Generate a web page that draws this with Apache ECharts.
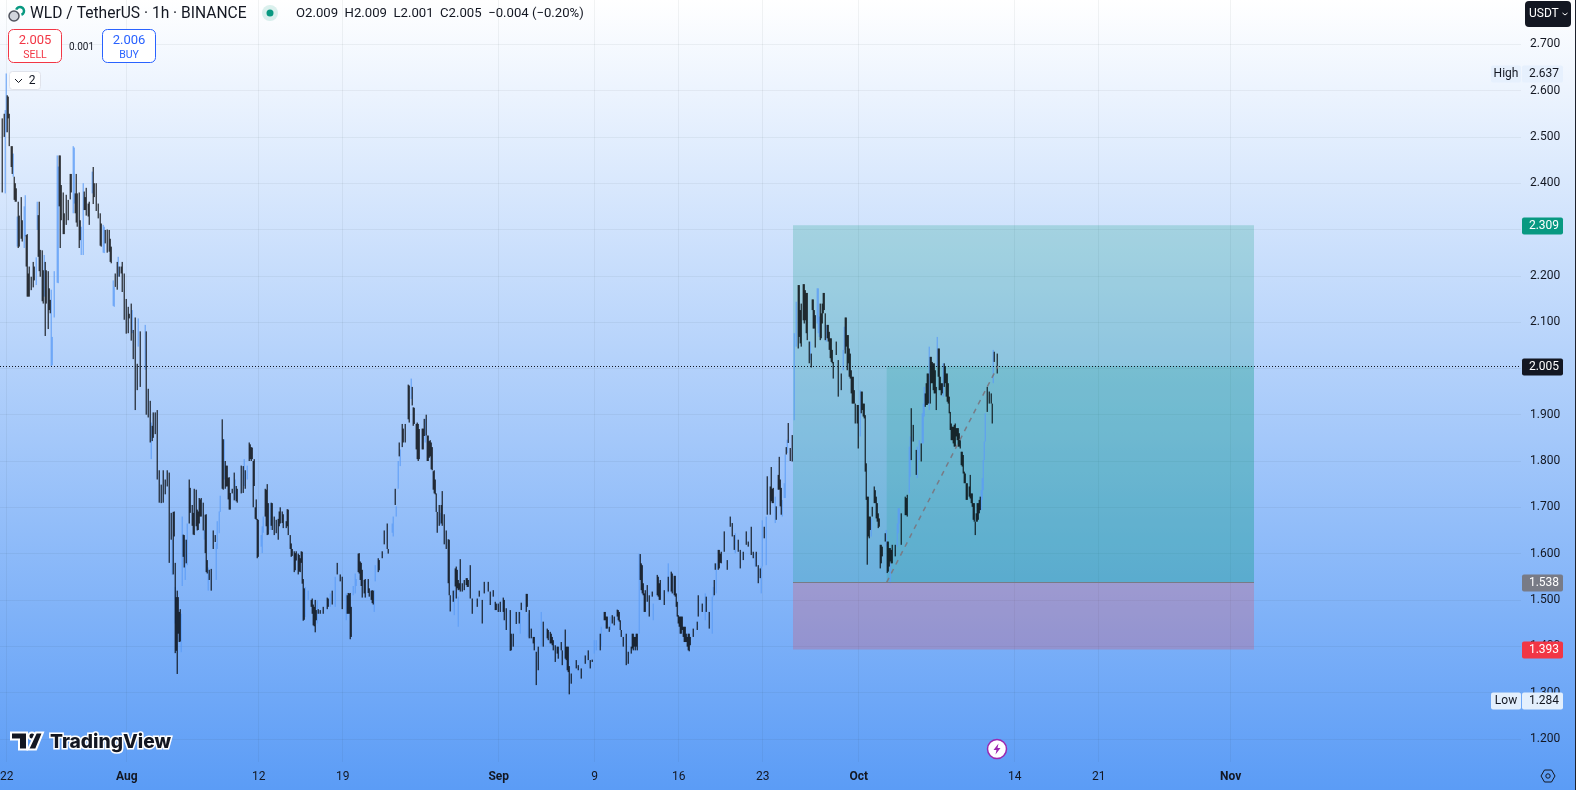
<!DOCTYPE html>
<html><head><meta charset="utf-8">
<style>html,body{margin:0;padding:0;background:#fff}#c{width:1576px;height:790px}</style>
<script src="https://cdn.jsdelivr.net/npm/echarts@6/dist/echarts.min.js"></script>
</head><body><div id="c"></div>
<script>
// hours since 1 Aug 00:00 for each sampled bar
const hours=[-249,-241,-239,-235,-229,-223,-217,-211,-205,-199,
-195,-187,-181,-175,-169,-163,-157,-151,-145,-139,
-133,-127,-121,-113,-107,-101,-95,-87,-81,-75,
-67,-61,-53,-47,-39,-33,-27,-19,-9,-1,
9,17,27,39,47,53,61,65,73,81,
85,93,97,101,107,111,115,121,125,131,
135,141,145,149,153,159,163,169,173,177,
181,187,191,197,201,205,211,215,221,229,
237,241,245,249,253,257,261,269,273,277,
281,289,295,303,307,313,319,323,327,331,
335,339,343,347,349,353,363,369,373,377,
383,393,401,411,421,427,431,441,443,447,
453,459,463,469,471,477,483,489,493,497,
503,511,515,521,523,531,537,543,545,551,
553,557,563,571,575,579,583,591,593,599,
603,607,611,615,619,621,625,631,635,639,
643,647,653,659,661,667,675,681,687,691,
701,705,711,715,723,727,733,737,743,753,
759,767,773,779,785,789,799,805,809,815,
819,823,833,841,847,851,857,863,869,871,
877,883,885,889,899,903,909,917,923,927,
931,939,947,955,961,965,971,975,981,985,
989,993,999,1003,1009,1011,1015,1021,1025,1027,
1031,1035,1041,1045,1051,1061,1065,1075,1083,1089,
1095,1099,1103,1107,1111,1117,1123,1127,1133,1141,
1143,1151,1159,1165,1173,1177,1183,1189,1195,1201,
1207,1211,1215,1223,1227,1233,1239,1243,1249,1253,
1259,1263,1267,1271,1275,1281,1289,1293,1299,1305,
1309,1315,1319,1323,1327,1331,1335,1339,1343,1349,
1355,1361,1365,1369,1373,1377,1383,1387,1393,1397,
1403,1409,1413,1419,1423,1429,1433,1437,1441,1445,
1451,1457,1463,1469,1473,1477,1479,1481,1485,1491,
1495,1501,1505,1507,1511,1517,1521,1525,1527,1531,
1537,1543,1549,1557,1561,1565,1569,1573,1579,1585,
1589,1593,1597,1601,1607,1611,1615,1619,1625,1629,
1635,1641,1645,1647,1653,1657,1661,1667,1671,1675,
1679,1685,1687,1691,1695,1697,1701,1707,1711,1715,
1717,1721,1725,1729,1731,1733,1735,1741];
const highs=[2.54,2.637,2.59,2.55,2.48,2.40,2.36,2.37,2.35,2.29,
2.22,2.23,2.24,2.36,2.255,2.23,2.21,2.17,2.21,2.46,
2.46,2.38,2.375,2.42,2.48,2.42,2.38,2.40,2.39,2.36,
2.435,2.40,2.335,2.31,2.30,2.28,2.19,2.23,2.23,2.15,
2.14,2.11,2.08,2.08,1.93,1.905,1.91,1.78,1.78,1.78,
1.775,1.69,1.58,1.52,1.48,1.68,1.64,1.665,1.76,1.705,
1.74,1.695,1.72,1.72,1.71,1.685,1.57,1.567,1.65,1.64,
1.67,1.725,1.89,1.80,1.79,1.765,1.74,1.775,1.74,1.79,
1.78,1.79,1.84,1.83,1.80,1.70,1.675,1.64,1.68,1.74,
1.75,1.71,1.68,1.675,1.70,1.685,1.67,1.695,1.64,1.61,
1.605,1.605,1.60,1.59,1.605,1.545,1.52,1.50,1.49,1.50,
1.48,1.485,1.505,1.52,1.58,1.555,1.55,1.51,1.515,1.515,
1.53,1.545,1.60,1.58,1.565,1.545,1.545,1.52,1.52,1.575,
1.59,1.605,1.65,1.665,1.61,1.665,1.74,1.80,1.84,1.88,
1.87,1.88,1.965,1.96,1.915,1.88,1.88,1.87,1.87,1.90,
1.855,1.845,1.83,1.78,1.73,1.69,1.705,1.735,1.685,1.65,
1.631,1.51,1.52,1.572,1.565,1.588,1.543,1.547,1.575,1.503,
1.503,1.52,1.50,1.539,1.539,1.518,1.521,1.496,1.492,1.505,
1.482,1.478,1.427,1.474,1.474,1.494,1.513,1.478,1.438,1.42,
1.388,1.399,1.453,1.438,1.431,1.42,1.402,1.399,1.409,1.391,
1.436,1.399,1.357,1.341,1.37,1.359,1.352,1.38,1.391,1.37,
1.371,1.413,1.427,1.474,1.464,1.442,1.467,1.464,1.479,1.474,
1.435,1.42,1.427,1.388,1.399,1.427,1.42,1.427,1.60,1.599,
1.575,1.514,1.532,1.51,1.518,1.554,1.536,1.521,1.55,1.561,
1.552,1.514,1.467,1.464,1.464,1.442,1.427,1.42,1.438,1.453,
1.51,1.492,1.507,1.474,1.528,1.579,1.608,1.604,1.648,1.586,
1.68,1.666,1.64,1.63,1.608,1.604,1.648,1.626,1.658,1.604,
1.604,1.575,1.568,1.672,1.658,1.767,1.787,1.742,1.702,1.809,
1.742,1.752,1.83,1.882,1.828,1.856,2.076,2.144,2.18,2.14,
2.182,2.163,2.058,2.032,2.149,2.115,2.173,2.14,2.163,2.119,
2.094,2.065,2.014,2.058,2.018,1.989,2.04,2.11,2.072,2.043,
1.982,1.924,1.921,1.95,1.924,1.899,1.795,1.723,1.68,1.701,
1.745,1.709,1.676,1.619,1.615,1.644,1.626,1.612,1.579,1.619,
1.619,1.698,1.687,1.723,1.727,1.831,1.914,1.878,1.824,1.845,
1.838,1.924,1.946,1.989,2.025,2.014,2.011,1.96,2.043,1.968,
2.011,1.989,1.939,1.906,1.874,1.881,1.871,1.845,1.82,1.777,
1.752,1.745,1.77,1.73,1.709,1.669,1.709,1.723,1.763,1.842,
1.903,1.96,1.95,1.946,1.924,2.04,2.036,2.032];
const lows=[2.38,2.51,2.51,2.48,2.42,2.36,2.26,2.28,2.26,2.155,
2.155,2.175,2.18,2.21,2.145,2.07,2.085,2.005,2.11,2.185,
2.26,2.29,2.31,2.365,2.335,2.315,2.26,2.245,2.33,2.31,
2.355,2.34,2.265,2.25,2.25,2.23,2.135,2.17,2.165,2.075,
2.06,1.91,1.96,1.90,1.84,1.85,1.76,1.71,1.71,1.745,
1.58,1.555,1.385,1.34,1.41,1.53,1.57,1.575,1.665,1.66,
1.64,1.65,1.665,1.68,1.65,1.56,1.52,1.52,1.61,1.625,
1.61,1.69,1.74,1.74,1.745,1.695,1.73,1.715,1.71,1.73,
1.74,1.76,1.80,1.80,1.70,1.675,1.59,1.615,1.645,1.68,
1.64,1.66,1.64,1.63,1.665,1.655,1.655,1.64,1.61,1.595,
1.56,1.585,1.555,1.56,1.58,1.455,1.50,1.485,1.445,1.43,
1.47,1.47,1.48,1.49,1.555,1.54,1.48,1.47,1.47,1.415,
1.51,1.53,1.56,1.53,1.505,1.505,1.515,1.50,1.49,1.54,
1.56,1.59,1.62,1.61,1.60,1.645,1.705,1.74,1.81,1.83,
1.84,1.84,1.89,1.92,1.88,1.825,1.80,1.825,1.825,1.855,
1.80,1.81,1.78,1.73,1.69,1.645,1.66,1.66,1.62,1.61,
1.536,1.475,1.496,1.503,1.525,1.518,1.521,1.528,1.503,1.47,
1.485,1.507,1.449,1.514,1.518,1.489,1.507,1.478,1.474,1.474,
1.435,1.39,1.399,1.448,1.449,1.478,1.474,1.417,1.417,1.391,
1.316,1.348,1.399,1.417,1.406,1.402,1.366,1.373,1.391,1.359,
1.373,1.344,1.296,1.319,1.352,1.348,1.33,1.362,1.37,1.352,
1.366,1.391,1.391,1.456,1.438,1.431,1.449,1.445,1.464,1.453,
1.42,1.399,1.359,1.362,1.384,1.395,1.399,1.391,1.427,1.543,
1.514,1.474,1.496,1.464,1.507,1.51,1.50,1.489,1.518,1.518,
1.51,1.485,1.449,1.427,1.435,1.409,1.391,1.402,1.42,1.435,
1.464,1.474,1.474,1.438,1.507,1.565,1.565,1.579,1.604,1.565,
1.658,1.637,1.608,1.604,1.568,1.586,1.619,1.615,1.597,1.59,
1.572,1.536,1.547,1.572,1.633,1.684,1.713,1.709,1.673,1.738,
1.684,1.72,1.814,1.839,1.80,1.799,1.888,2.047,2.043,2.047,
2.097,2.061,2.011,2.002,2.086,2.045,2.076,2.061,2.119,2.061,
2.058,2.014,1.978,2.029,1.939,1.953,1.996,2.032,1.996,1.982,
1.924,1.881,1.827,1.903,1.896,1.777,1.716,1.576,1.633,1.68,
1.709,1.669,1.658,1.568,1.594,1.626,1.558,1.572,1.536,1.579,
1.594,1.644,1.619,1.683,1.68,1.73,1.802,1.842,1.77,1.802,
1.799,1.838,1.917,1.921,1.924,1.968,1.946,1.91,1.953,1.942,
1.96,1.928,1.903,1.867,1.838,1.831,1.845,1.827,1.788,1.752,
1.716,1.723,1.719,1.701,1.669,1.64,1.669,1.694,1.716,1.802,
1.842,1.906,1.924,1.924,1.881,1.968,2.014,1.989];
// hours at which the bar closed higher than it opened (blue)
const risingHours=[-241,-205,-181,-151,-145,-139,-107,-87,-47,-27,111,121,163,181,187,241,269,273,363,453,459,497,531,543,
939,1025,1173,1271,1315,1335,1339,1383,1433,1527,1543,1565,1585,1593,1711,1715,1717,1733];

// additional down bars in the dense stretches
const moreDownHours=[-245,-237,-231,-225,-221,-215,-209,-201,-197,-191,-185,-177,-173,-167,-161,-155,-153,-135,-131,-125,-117,-111,-103,-99,-93,-85,-83,-77,-65,-57,-51,-43,-35,-31,-23,-15,-11,-5,3,5,13,21,
43,51,57,69,77,89,95,99,103,105,113,119,127,133,139,143,147,157,161,165,193,199,203,207,219,233,247,251,255,259,263,279,283,
291,299,305,311,321,329,337,345,351,355,371,375,379,387,403,445,449,465,467,475,485,491,505,565,573,581,585,595,601,605,609,613,617,629,
645,657,663,665,671,679,683,739,747,755,769,801,813,843,849,853,861,879,881,957,959,983,987,1013,1017,1019,1029,1033,1037,1063,1067,1091,1097,1101,1105,1109,1113,1115,1119,1121,1125,1175,1185,1187,1287,1291,1303,1307,
1345,1347,1353,1357,1359,1371,1375,1389,1391,1395,1401,1405,1407,1411,1439,1443,1447,1449,1453,1455,1461,1471,1475,1483,1487,1497,1499,1503,1509,1523,1527,1529,1559,
1599,1603,1609,1613,1617,1623,1627,1631,1637,1639,1643,1649,1651,1655,1659,1663,1665,1669,1673,1677,1681,1689,1693,1699,1703,1705];
const moreDownHighs=[2.55,2.587,2.48,2.414,2.389,2.33,2.32,2.288,2.205,2.198,2.22,2.331,2.256,2.212,2.212,2.173,2.148,2.46,2.396,2.335,2.364,2.42,2.378,2.378,2.32,2.382,2.37,2.356,2.40,2.356,2.313,2.299,2.299,2.263,2.205,2.22,2.22,2.205,2.133,2.118,2.083,2.01,
1.956,1.876,1.905,1.749,1.76,1.688,1.691,1.506,1.506,1.474,1.641,1.63,1.742,1.688,1.738,1.691,1.717,1.684,1.586,1.565,1.847,1.79,1.764,1.731,1.746,1.789,1.836,1.829,1.804,1.717,1.673,1.738,1.709,
1.709,1.673,1.691,1.691,1.696,1.622,1.601,1.597,1.604,1.525,1.503,1.485,1.478,1.478,1.503,1.514,1.485,1.601,1.583,1.543,1.525,1.521,1.586,1.963,1.916,1.883,1.869,1.891,1.855,1.843,1.84,1.778,1.76,1.705,
1.63,1.568,1.543,1.536,1.536,1.547,1.543,1.492,1.496,1.5,1.427,1.513,1.42,1.435,1.427,1.413,1.399,1.399,1.399,1.474,1.464,1.478,1.456,1.427,1.42,1.427,1.579,1.536,1.521,1.55,1.543,1.557,1.552,1.496,1.464,1.464,1.442,1.442,1.427,1.42,1.427,1.543,1.608,1.6,1.745,1.74,1.77,1.76,
2.18,2.126,2.182,2.169,2.163,2.149,2.126,2.119,2.14,2.163,2.094,2.079,2.065,2.04,2.11,2.072,2.032,1.996,1.982,1.953,1.921,1.95,1.924,1.723,1.68,1.737,1.723,1.687,1.619,1.626,1.612,1.608,1.72,
1.968,1.989,2.025,2.011,1.996,2.043,1.982,1.968,2.004,1.989,1.968,1.881,1.874,1.878,1.871,1.871,1.86,1.82,1.813,1.773,1.752,1.73,1.709,1.687,1.709,1.716];
const moreDownLows=[2.50,2.54,2.435,2.364,2.36,2.263,2.274,2.22,2.155,2.169,2.19,2.241,2.198,2.14,2.14,2.126,2.119,2.35,2.32,2.29,2.32,2.38,2.335,2.306,2.277,2.342,2.342,2.328,2.37,2.324,2.263,2.27,2.252,2.227,2.176,2.198,2.205,2.105,2.076,2.108,2.02,1.953,
1.894,1.843,1.858,1.709,1.728,1.63,1.637,1.39,1.427,1.409,1.593,1.579,1.688,1.641,1.659,1.651,1.68,1.601,1.557,1.543,1.738,1.745,1.717,1.695,1.713,1.731,1.804,1.804,1.746,1.673,1.593,1.659,1.641,
1.651,1.644,1.659,1.666,1.659,1.593,1.564,1.561,1.535,1.457,1.47,1.443,1.456,1.47,1.485,1.47,1.42,1.557,1.543,1.514,1.507,1.493,1.564,1.883,1.876,1.804,1.804,1.854,1.80,1.807,1.782,1.738,1.728,1.665,
1.51,1.529,1.521,1.522,1.518,1.532,1.528,1.478,1.474,1.456,1.391,1.485,1.406,1.413,1.406,1.391,1.384,1.37,1.348,1.456,1.438,1.456,1.435,1.391,1.391,1.399,1.521,1.51,1.474,1.507,1.5,1.514,1.507,1.464,1.442,1.427,1.42,1.409,1.409,1.399,1.389,1.51,1.568,1.58,1.684,1.709,1.738,1.702,
2.068,2.054,2.104,2.104,2.076,2.126,2.086,2.065,2.097,2.126,2.065,2.04,2.022,2.011,2.047,2.011,1.978,1.946,1.924,1.924,1.881,1.91,1.892,1.637,1.651,1.709,1.676,1.655,1.579,1.561,1.583,1.579,1.683,
1.921,1.924,1.968,1.953,1.946,1.982,1.953,1.946,1.968,1.939,1.924,1.845,1.845,1.831,1.853,1.831,1.831,1.791,1.773,1.752,1.716,1.709,1.673,1.669,1.673,1.687];

// additional thin blue up bars beside the black ones
const moreUpHours=[-243,-227,-219,-203,-179,-165,-149,-137,-105,-91,-69,-45,-25,-17,11,23,37,
49,91,97,109,117,155,179,185,195,217,235,271,287,357,381,407,417,439,457,495,533,539,547,569,597,627,
655,663,787,803,829,935,949,967,1053,1083,1157,1171,1179,1217,1257,1269,1279,1297,1311,1317,1321,
1367,1381,1385,1399,1435,1467,1489,1519,1541,1545,1567,1581,1591,1595,1605,1621,1633,1709,1713];
const moreUpHighs=[2.558,2.464,2.328,2.374,2.36,2.245,2.068,2.436,2.477,2.306,2.425,2.306,2.176,2.241,2.126,2.108,2.094,
1.883,1.63,1.528,1.47,1.63,1.651,1.622,1.691,1.847,1.76,1.804,1.659,1.709,1.528,1.499,1.514,1.55,1.514,1.557,1.521,1.68,1.702,1.825,1.978,1.891,1.688,
1.521,1.507,1.474,1.471,1.474,1.413,1.442,1.464,1.492,1.579,1.514,1.507,1.579,1.644,1.601,1.572,1.68,1.723,1.716,1.814,1.846,
2.058,2.173,2.112,2.094,2.09,1.953,1.676,1.651,1.665,1.698,1.853,1.831,1.903,1.96,2.047,2.068,2.011,1.737,1.802];
const moreUpLows=[2.378,2.414,2.263,2.285,2.299,2.155,2.007,2.184,2.356,2.245,2.378,2.249,2.133,2.198,2.076,2.047,1.997,
1.804,1.554,1.449,1.387,1.543,1.63,1.543,1.644,1.76,1.717,1.746,1.601,1.651,1.463,1.449,1.485,1.485,1.456,1.514,1.474,1.637,1.68,1.789,1.934,1.84,1.662,
1.467,1.442,1.427,1.42,1.399,1.384,1.399,1.435,1.456,1.514,1.456,1.427,1.514,1.601,1.572,1.514,1.575,1.666,1.68,1.72,1.817,
2.018,2.097,2.068,2.058,2.04,1.853,1.637,1.615,1.615,1.665,1.766,1.763,1.838,1.896,1.91,2.004,1.939,1.694,1.737];

const priceTicks=[1.2,1.3,1.4,1.5,1.6,1.7,1.8,1.9,2.0,2.1,2.2,2.3,2.4,2.5,2.6,2.7];
const dateTickDays=[-10,0,11,18,31,39,46,53,61,74,81,92];
const dateTickLabels=['22','Aug','12','19','Sep','9','16','23','Oct','14','21','Nov'];

const targetPrice=2.309, entryPrice=1.538, stopPrice=1.393, lastPrice=2.005;
const positionStartDay=55.525, positionEndDay=93.94, entryHitDay=63.33, lastBarDay=72.6;

const tagPrices=[2.637,2.309,2.005,1.538,1.393,1.284];
const tagFills=['#e6f0fd','#089981','#131722','#787b86','#f23645','#e3effd'];
const tagTexts=['#131722','#ffffff','#ffffff','#ffffff','#ffffff','#131722'];
const tagNames=['High','','','','','Low'];

const FONT='Roboto, "Open Sans", sans-serif';
const upBars=moreUpHours.map((h,i)=>[h/24,moreUpLows[i],moreUpHighs[i],moreUpLows[i],moreUpHighs[i]]);
const mainBars=hours.map((h,i)=>{
  const up=risingHours.includes(h);
  return [h/24, up?lows[i]:highs[i], up?highs[i]:lows[i], lows[i], highs[i]];
});
const downBars=moreDownHours.map((h,i)=>[h/24,moreDownHighs[i],moreDownLows[i],moreDownLows[i],moreDownHighs[i]]);
const candles=upBars.concat(mainBars,downBars);

const chart=echarts.init(document.getElementById('c'),null,{renderer:'canvas',width:1576,height:790});
const gridLine={show:true,lineStyle:{color:'rgba(42,46,57,0.06)',width:1}};
chart.setOption({
  animation:false,
  backgroundColor:{type:'linear',x:0,y:0,x2:0,y2:1,colorStops:[{offset:0,color:'#ffffff'},{offset:1,color:'#5b9cf6'}]},
  grid:{left:0,right:55,top:0,bottom:28,containLabel:false,outerBoundsMode:'none'},
  xAxis:{type:'value',min:-10.558,max:116.19,
    axisLine:{show:false},
    axisTick:{show:false,customValues:dateTickDays},
    splitLine:gridLine,
    axisLabel:{customValues:dateTickDays,margin:9,hideOverlap:false,showMinLabel:true,showMaxLabel:true,
      color:'#131722',fontFamily:FONT,fontSize:12,
      formatter:v=>{const s=dateTickLabels[dateTickDays.indexOf(v)]||'';return /[a-z]/i.test(s)?'{b|'+s+'}':s;},
      rich:{b:{fontWeight:'bold',fontFamily:FONT,fontSize:12,color:'#131722'}}}},
  yAxis:{type:'value',position:'right',min:1.1499,max:2.7957,scale:true,
    axisLine:{show:false},
    axisTick:{show:false,customValues:priceTicks},
    splitLine:gridLine,
    axisLabel:{customValues:priceTicks,margin:9,padding:[5,0,0,0],color:'#131722',fontFamily:FONT,fontSize:12,
      showMinLabel:true,showMaxLabel:true,formatter:v=>v.toFixed(3)}},
  series:[
    {name:'position',type:'line',data:[],z:1,silent:true,
     markArea:{silent:true,z:1,itemStyle:{borderWidth:0},data:[
       [{coord:[positionStartDay,targetPrice],itemStyle:{color:'rgba(8,153,129,0.22)'}},{coord:[positionEndDay,entryPrice]}],
       [{coord:[positionStartDay,entryPrice],itemStyle:{color:'rgba(242,54,69,0.22)'}},{coord:[positionEndDay,stopPrice]}],
       [{coord:[entryHitDay,lastPrice],itemStyle:{color:'rgba(8,153,129,0.16)'}},{coord:[positionEndDay,entryPrice]}]
     ]}},
    {name:'WLD / TetherUS',type:'candlestick',data:candles,encode:{x:0,y:[1,2,3,4]},z:3,barWidth:1,clip:false,silent:true,
     itemStyle:{color:'#5b9cf6',color0:'#000000',borderColor:'#5b9cf6',borderColor0:'#000000',borderWidth:1},
     markLine:{silent:true,symbol:'none',z:4,animation:false,label:{show:false},data:[
       [{coord:[positionStartDay,entryPrice],lineStyle:{color:'#787b86',width:1,type:'solid'}},{coord:[positionEndDay,entryPrice]}],
       [{coord:[entryHitDay,entryPrice],lineStyle:{color:'#787b86',width:1.5,type:[5,5]}},{coord:[lastBarDay,lastPrice]}],
       [{coord:[-10.558,lastPrice],lineStyle:{color:'#131722',width:1,type:[1,2]}},{coord:[116.19,lastPrice]}]
     ]}},
    {name:'tags',type:'custom',z:10,silent:true,clip:false,encode:{x:0,y:1},
     data:tagPrices.map(p=>[0,p]),
     renderItem:(params,api)=>{
       const i=params.dataIndex, y=Math.round(api.coord([0,api.value(1)])[1])+1;
       const kids=[
         {type:'rect',shape:{x:1522,y:y-8.5,width:41,height:17,r:2},style:{fill:tagFills[i]}},
         {type:'text',style:{text:tagPrices[i].toFixed(3),x:1544,y:y,fill:tagTexts[i],font:'12px '+FONT,textAlign:'center',textVerticalAlign:'middle'}}
       ];
       if(tagNames[i]){
         kids.push({type:'rect',shape:{x:1491,y:y-8.5,width:30,height:17,r:2},style:{fill:tagFills[i]}});
         kids.push({type:'text',style:{text:tagNames[i],x:1506,y:y,fill:tagTexts[i],font:'12px '+FONT,textAlign:'center',textVerticalAlign:'middle'}});
       }
       return {type:'group',children:kids};
     }}
  ],
  graphic:{elements:[
    {type:'rect',z:50,shape:{x:1575,y:0,width:1,height:790},style:{fill:'#1e222d'}},
    // header
    {type:'circle',z:50,shape:{cx:14,cy:16,r:5},style:{fill:'#d1d4dc',stroke:'#50535e',lineWidth:1.5}},
    {type:'arc',z:50,shape:{cx:20,cy:11,r:4,startAngle:-2.8,endAngle:1.2},style:{fill:'none',stroke:'#089981',lineWidth:2.5}},
    {type:'text',z:50,style:{text:'WLD / TetherUS · 1h · BINANCE',x:30,y:14,fill:'#131722',font:'15.6px '+FONT,textVerticalAlign:'middle'}},
    {type:'circle',z:50,shape:{cx:270,cy:13,r:8},style:{fill:'rgba(8,153,129,0.14)'}},
    {type:'circle',z:50,shape:{cx:270,cy:13,r:3.5},style:{fill:'#089981'}},
    {type:'text',z:50,style:{text:'O2.009  H2.009  L2.001  C2.005  −0.004 (−0.20%)',x:296,y:14,fill:'#131722',font:'13.15px '+FONT,textVerticalAlign:'middle'}},
    {type:'rect',z:50,shape:{x:8.5,y:29.5,width:53,height:33,r:5},style:{fill:'#ffffff',stroke:'#f23645',lineWidth:1}},
    {type:'text',z:51,style:{text:'2.005',x:35,y:41,fill:'#f23645',font:'13px '+FONT,textAlign:'center',textVerticalAlign:'middle'}},
    {type:'text',z:51,style:{text:'SELL',x:35,y:55,fill:'#f23645',font:'10.5px '+FONT,textAlign:'center',textVerticalAlign:'middle'}},
    {type:'text',z:51,style:{text:'0.001',x:81.5,y:47,fill:'#131722',font:'10px '+FONT,textAlign:'center',textVerticalAlign:'middle'}},
    {type:'rect',z:50,shape:{x:102.5,y:29.5,width:53,height:33,r:5},style:{fill:'#ffffff',stroke:'#2962ff',lineWidth:1}},
    {type:'text',z:51,style:{text:'2.006',x:129,y:41,fill:'#2962ff',font:'13px '+FONT,textAlign:'center',textVerticalAlign:'middle'}},
    {type:'text',z:51,style:{text:'BUY',x:129,y:55,fill:'#2962ff',font:'10.5px '+FONT,textAlign:'center',textVerticalAlign:'middle'}},
    {type:'rect',z:50,shape:{x:9.5,y:71.5,width:31,height:18,r:3},style:{fill:'#ffffff',stroke:'#e0e3eb',lineWidth:1}},
    {type:'polyline',z:51,shape:{points:[[15,79],[18.5,82.5],[22,79]]},style:{fill:'none',stroke:'#131722',lineWidth:1}},
    {type:'text',z:51,style:{text:'2',x:32,y:80.5,fill:'#131722',font:'12px '+FONT,textAlign:'center',textVerticalAlign:'middle'}},
    // currency button
    {type:'rect',z:50,shape:{x:1525,y:1,width:46,height:26,r:4},style:{fill:'#131722'}},
    {type:'text',z:51,style:{text:'USDT',x:1529,y:14,fill:'#ffffff',font:'12px '+FONT,textVerticalAlign:'middle'}},
    {type:'polyline',z:51,shape:{points:[[1562.5,13],[1565,15],[1567.5,13]]},style:{fill:'none',stroke:'#ffffff',lineWidth:1}},
    // settings hexagon
    {type:'polygon',z:50,shape:{points:[[1541,776],[1544.5,770],[1551.5,770],[1555,776],[1551.5,782],[1544.5,782]]},style:{fill:'none',stroke:'#131722',lineWidth:1}},
    {type:'circle',z:50,shape:{cx:1548,cy:776,r:2.2},style:{fill:'none',stroke:'#131722',lineWidth:1}},
    // event icon
    {type:'circle',z:50,shape:{cx:997,cy:749,r:9.5},style:{fill:'#ffffff',stroke:'#9c27b0',lineWidth:1.5}},
    {type:'polygon',z:51,shape:{points:[[998.5,743.5],[993.5,750],[996.5,750],[995.5,754.5],[1000.5,748],[997.5,748]]},style:{fill:'#9c27b0'}},
    // TradingView logo
    {type:'polygon',z:50,shape:{points:[[11,732.5],[27,732.5],[27,749.5],[19,749.5],[19,739.5],[11,739.5]]},style:{fill:'#131722',stroke:'#ffffff',lineWidth:2}},
    {type:'circle',z:50,shape:{cx:32,cy:736,r:3.5},style:{fill:'#131722',stroke:'#ffffff',lineWidth:2}},
    {type:'polygon',z:50,shape:{points:[[36,732.5],[43,732.5],[36,749.5],[28,749.5]]},style:{fill:'#131722',stroke:'#ffffff',lineWidth:2}},
    {type:'text',z:50,style:{text:'TradingView',x:50,y:742,fill:'#131722',stroke:'#ffffff',lineWidth:3,font:'800 19.2px Inter, '+FONT,textVerticalAlign:'middle'}}
  ]}
});
</script></body></html>
